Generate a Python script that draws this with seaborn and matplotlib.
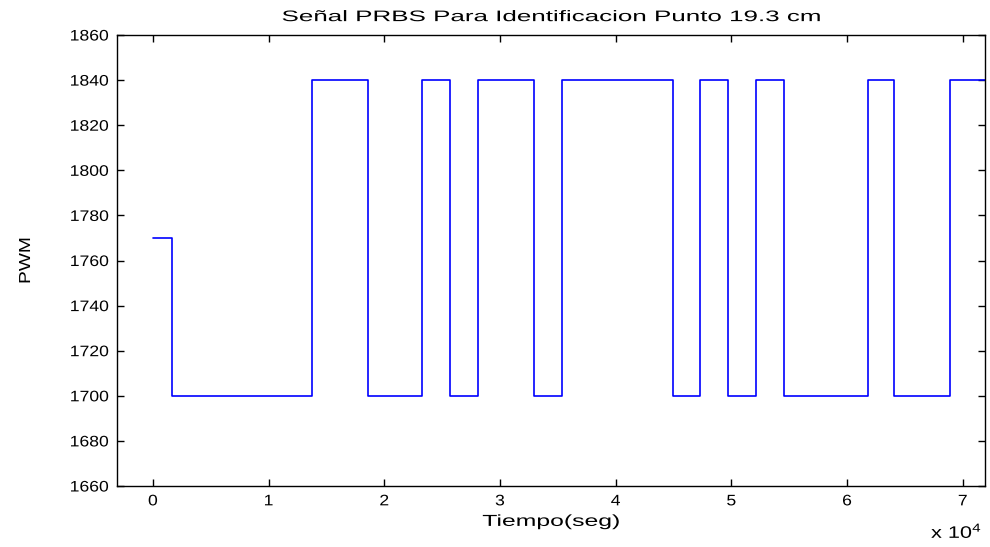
import matplotlib
matplotlib.use("Agg")
import matplotlib.pyplot as plt
from matplotlib.patheffects import AbstractPathEffect
from matplotlib.transforms import Affine2D
import seaborn as sns
import pandas as pd

# PRBS excitation: switching instants (s) and PWM level held from each instant
switch_times = [0, 1680, 13790, 18630, 23270, 25670, 28110, 32930, 35380,
                44930, 47320, 49740, 52140, 54580, 61850, 64070, 68890, 72000]
pwm_levels = [1770, 1700, 1840, 1700, 1840, 1700, 1840, 1700, 1840,
              1700, 1840, 1700, 1840, 1700, 1840, 1700, 1840, 1840]

x_ticks = [0, 10000, 20000, 30000, 40000, 50000, 60000, 70000]
x_tick_labels = ["0", "1", "2", "3", "4", "5", "6", "7"]
y_ticks = [1660, 1680, 1700, 1720, 1740, 1760, 1780, 1800, 1820, 1840, 1860]


class Stretch(AbstractPathEffect):
    """Widen glyph outlines about an anchor of the drawn string."""

    def __init__(self, sx=1.0, sy=1.0, anchor="center"):
        super().__init__()
        self.sx, self.sy, self.anchor = sx, sy, anchor

    def draw_path(self, renderer, gc, tpath, affine, rgbFace=None):
        bb = tpath.get_extents(affine)
        if self.anchor == "right":
            cx = bb.x1
        elif self.anchor == "left":
            cx = bb.x0
        else:
            cx = 0.5 * (bb.x0 + bb.x1)
        cy = 0.5 * (bb.y0 + bb.y1)
        stretched = affine + Affine2D().translate(-cx, -cy).scale(
            self.sx, self.sy).translate(cx, cy)
        renderer.draw_path(gc, tpath, stretched, rgbFace)


df = pd.DataFrame({"t": switch_times, "pwm": pwm_levels})

sns.set_theme(style="white")
plt.rcParams["font.family"] = ["Liberation Sans", "DejaVu Sans"]
plt.rcParams["mathtext.fontset"] = "custom"
plt.rcParams["mathtext.rm"] = "Liberation Sans"
plt.rcParams["mathtext.it"] = "Liberation Sans"

fig = plt.figure(figsize=(9.9, 5.47), dpi=100)
ax = fig.add_axes([0.1182, 0.1115, 0.877, 0.8245])

sns.lineplot(data=df, x="t", y="pwm", ax=ax, drawstyle="steps-post",
             color="#0000ff", linewidth=1.2, estimator=None, sort=False)

ax.set_xlim(-3100, 71950)
ax.set_ylim(1660, 1860)
ax.set_xticks(x_ticks)
ax.set_xticklabels(x_tick_labels)
ax.set_yticks(y_ticks)

for side in ["top", "right", "bottom", "left"]:
    ax.spines[side].set_visible(True)
    ax.spines[side].set_color("black")
    ax.spines[side].set_linewidth(1.0)

ax.tick_params(axis="both", which="both", direction="in", length=5, width=1,
               colors="black", labelsize=11, top=True, right=True,
               bottom=True, left=True, pad=6)

for lbl in ax.get_xticklabels():
    lbl.set_path_effects([Stretch(1.15, 1.0, "center")])
for lbl in ax.get_yticklabels():
    lbl.set_path_effects([Stretch(1.15, 1.0, "right")])

ax.set_xlabel("Tiempo(seg)", fontsize=11.5, color="black", labelpad=4,
              path_effects=[Stretch(1.55, 1.0)])
ax.set_ylabel("PWM", fontsize=11.5, color="black", labelpad=30,
              path_effects=[Stretch(1.0, 1.2)])
ax.set_title("Señal PRBS Para Identificacion Punto 19.3 cm", fontsize=11,
             color="black", pad=10, path_effects=[Stretch(1.7, 1.0)])

fig.text(0.992, 0.0165, r"x 10$^{4}$", ha="right", va="baseline",
         fontsize=12, color="black", path_effects=[Stretch(1.3, 1.0, "right")])

fig.savefig("out.png", dpi=100, facecolor="white")
